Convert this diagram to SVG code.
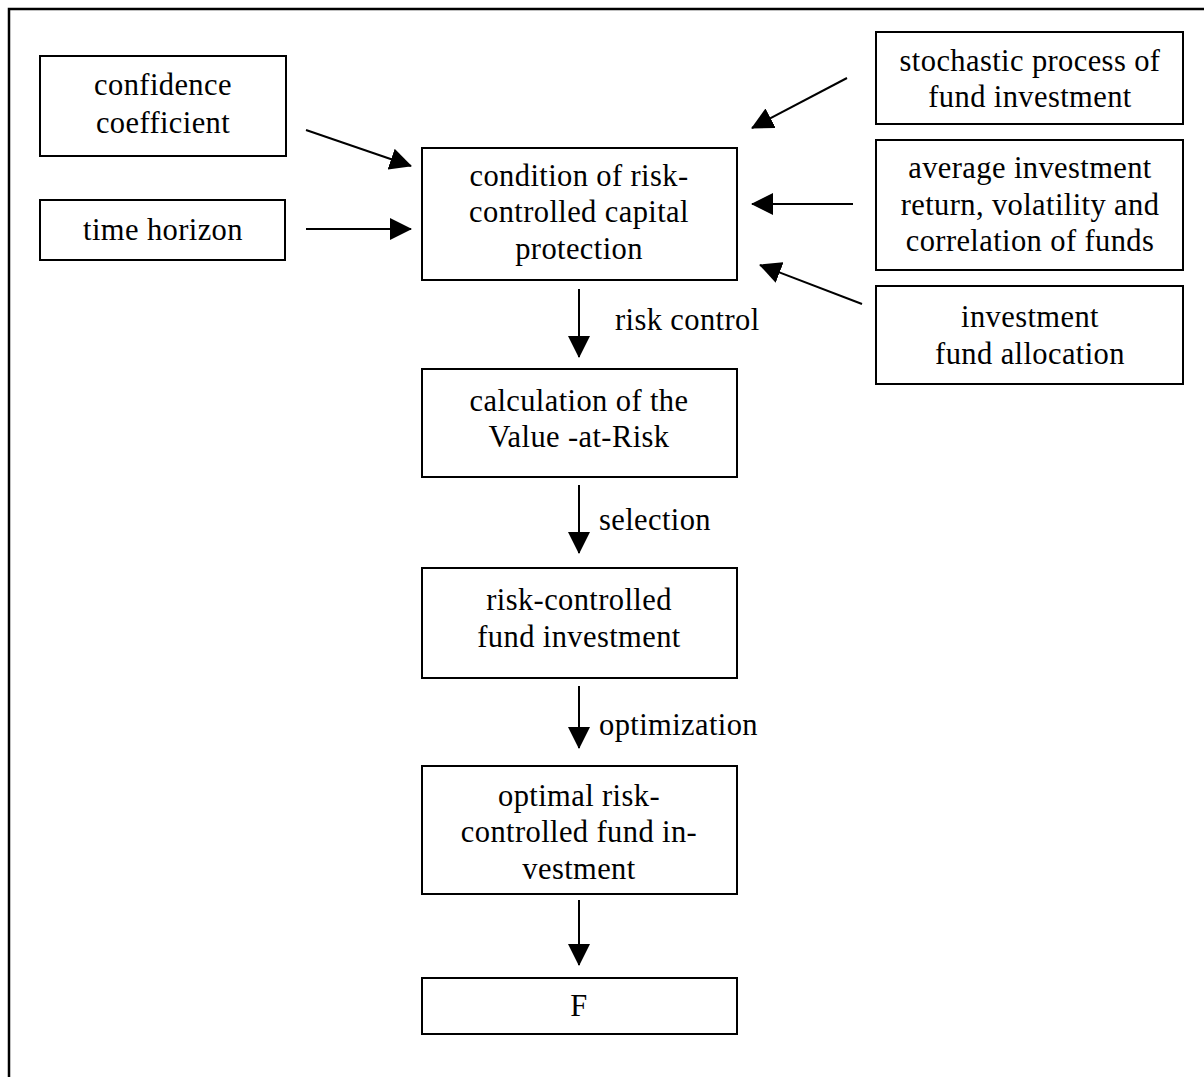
<svg xmlns="http://www.w3.org/2000/svg" width="1204" height="1077" viewBox="0 0 1204 1077">
<defs>
<style>
.box{fill:#fff;stroke:#000;stroke-width:2}
.t{font-family:"Liberation Serif","Times New Roman",serif;font-size:30.5px;fill:#000;text-anchor:middle;letter-spacing:0.4px}
.l{font-family:"Liberation Serif","Times New Roman",serif;font-size:30.5px;fill:#000;letter-spacing:0.4px}
.c{stroke:#000;stroke-width:2;fill:none;marker-end:url(#ah)}
</style>
<marker id="ah" viewBox="0 0 22 22" refX="21" refY="11" markerWidth="22" markerHeight="22" markerUnits="userSpaceOnUse" orient="auto">
<path d="M0,0 L22,11 L0,22 Z" fill="#000"/>
</marker>
</defs>
<rect width="1204" height="1077" fill="#fff"/>
<path d="M9,1077 V9 H1204" fill="none" stroke="#000" stroke-width="2.5"/>

<g id="n-confidence"><rect class="box" x="40" y="56" width="246" height="100"/>
<text class="t" x="163" y="95">confidence</text><text class="t" x="163" y="133">coefficient</text></g>
<g id="n-time"><rect class="box" x="40" y="200" width="245" height="60"/>
<text class="t" x="163" y="240">time horizon</text></g>
<g id="n-condition"><rect class="box" x="422" y="148" width="315" height="132"/>
<text class="t" x="579" y="186">condition of risk-</text><text class="t" x="579" y="222">controlled capital</text><text class="t" x="579" y="259">protection</text></g>
<g id="n-stochastic"><rect class="box" x="876" y="32" width="307" height="92"/>
<text class="t" x="1030" y="71">stochastic process of</text><text class="t" x="1030" y="107">fund investment</text></g>
<g id="n-average"><rect class="box" x="876" y="140" width="307" height="130"/>
<text class="t" x="1030" y="178">average investment</text><text class="t" x="1030" y="215">return, volatility and</text><text class="t" x="1030" y="251">correlation of funds</text></g>
<g id="n-allocation"><rect class="box" x="876" y="286" width="307" height="98"/>
<text class="t" x="1030" y="327">investment</text><text class="t" x="1030" y="364">fund allocation</text></g>
<g id="n-var"><rect class="box" x="422" y="369" width="315" height="108"/>
<text class="t" x="579" y="411">calculation of the</text><text class="t" x="579" y="447">Value -at-Risk</text></g>
<g id="n-rcfi"><rect class="box" x="422" y="568" width="315" height="110"/>
<text class="t" x="579" y="610">risk-controlled</text><text class="t" x="579" y="647">fund investment</text></g>
<g id="n-optimal"><rect class="box" x="422" y="766" width="315" height="128"/>
<text class="t" x="579" y="806">optimal risk-</text><text class="t" x="579" y="842">controlled fund in-</text><text class="t" x="579" y="879">vestment</text></g>
<g id="n-F"><rect class="box" x="422" y="978" width="315" height="56"/>
<text class="t" x="579" y="1016">F</text></g>

<g id="connectors">
<line class="c" x1="306" y1="130" x2="411" y2="166"/>
<line class="c" x1="306" y1="229" x2="411" y2="229"/>
<line class="c" x1="847" y1="78" x2="752" y2="128"/>
<line class="c" x1="853" y1="204" x2="752" y2="204"/>
<line class="c" x1="862" y1="304" x2="760" y2="265"/>
<line class="c" x1="579" y1="289" x2="579" y2="357"/>
<line class="c" x1="579" y1="485" x2="579" y2="553"/>
<line class="c" x1="579" y1="686" x2="579" y2="748"/>
<line class="c" x1="579" y1="900" x2="579" y2="965"/>
<text class="l" x="615" y="330">risk control</text>
<text class="l" x="599" y="530">selection</text>
<text class="l" x="599" y="735">optimization</text>
</g>
</svg>
